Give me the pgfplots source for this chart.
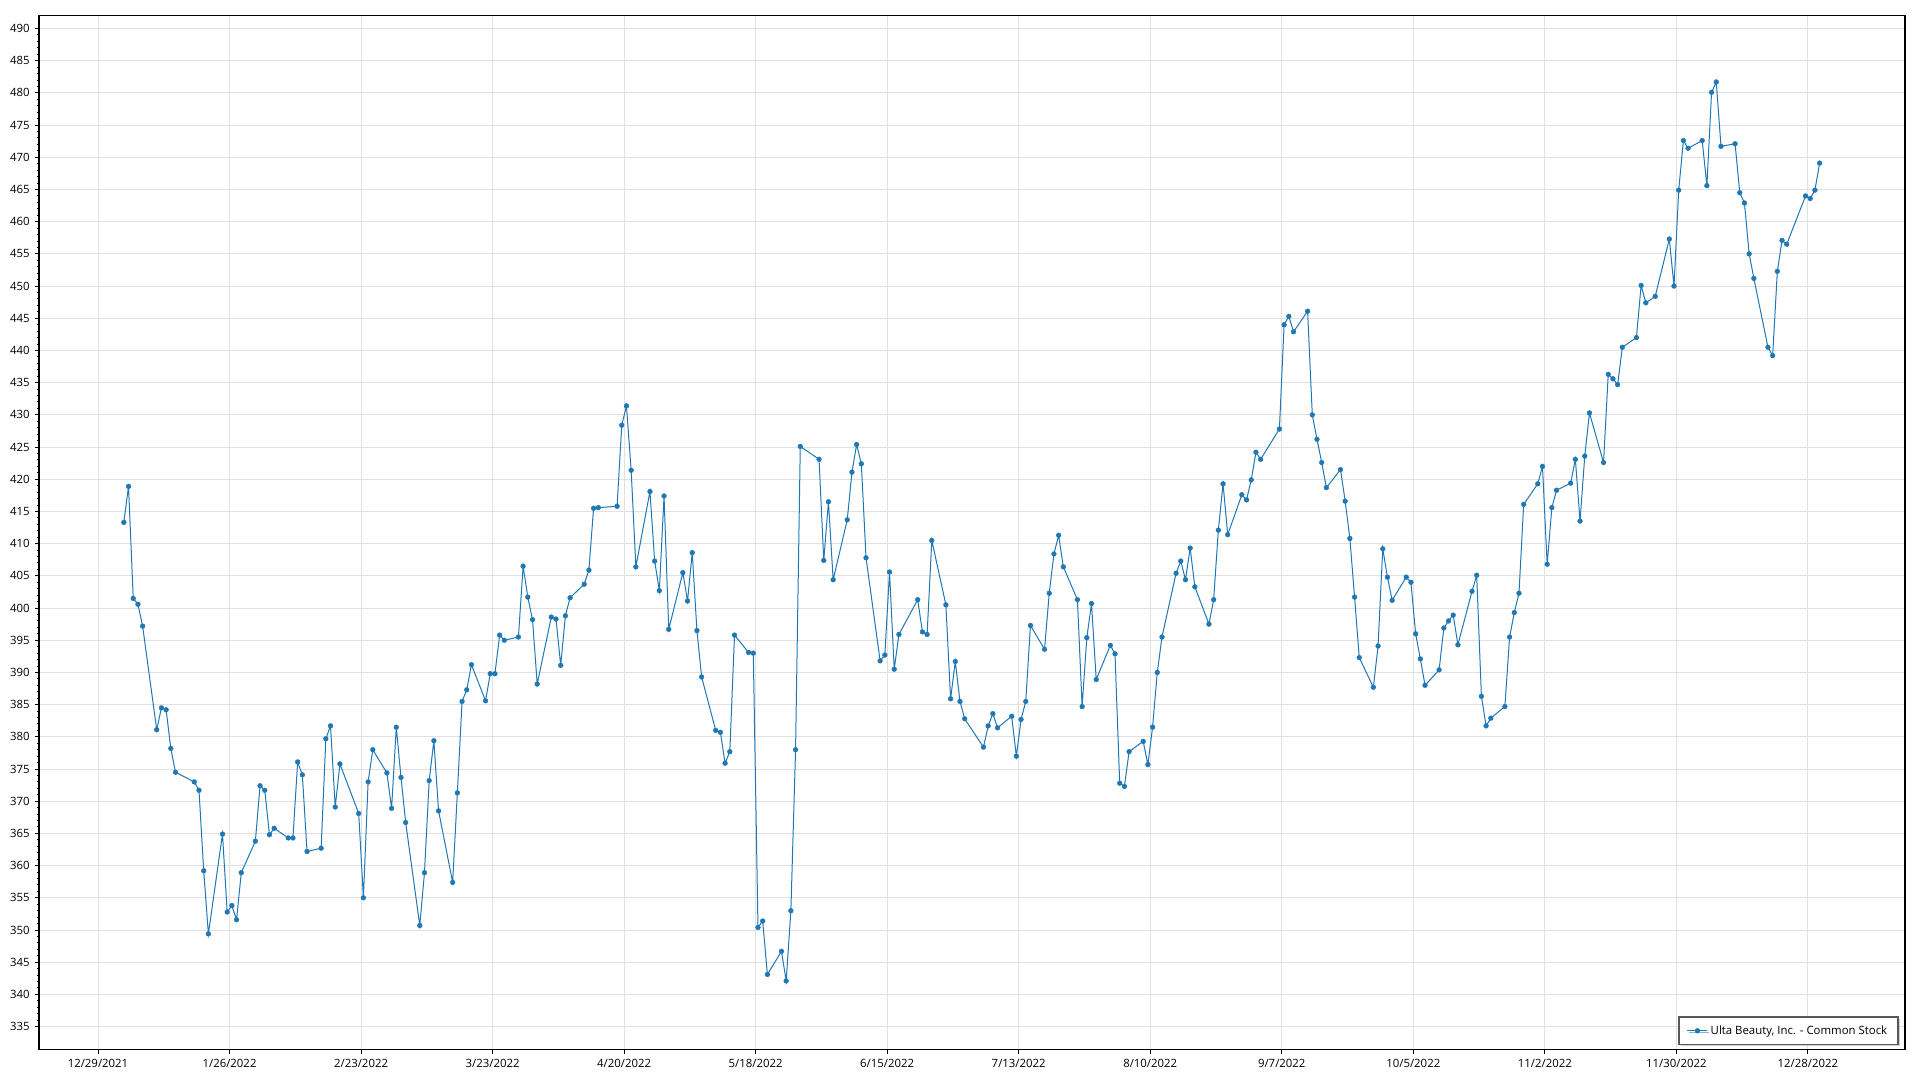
\documentclass[border=0pt]{standalone}
\usepackage{fontspec}
\setmainfont{Open Sans}
\usepackage{pgfplots}
\pgfplotsset{compat=1.18}
\usetikzlibrary{shadows}
\definecolor{ultablue}{HTML}{1F77B4}
\definecolor{gridgray}{HTML}{E1E1E1}
\newcommand{\chartfont}{\fontsize{8.1pt}{9.5pt}\selectfont}

% closing price, x = days since 12/29/2021
\pgfplotstableread{
d v
5 413.3
6 418.9
7 401.5
8 400.6
9 397.2
12 381.1
13 384.5
14 384.2
15 378.2
16 374.5
20 373.0
21 371.7
22 359.2
23 349.4
26 364.9
27 352.8
28 353.8
29 351.6
30 358.9
33 363.8
34 372.4
35 371.7
36 364.8
37 365.8
40 364.3
41 364.3
42 376.1
43 374.1
44 362.2
47 362.7
48 379.7
49 381.7
50 369.1
51 375.8
55 368.1
56 355.0
57 373.0
58 378.0
61 374.4
62 368.9
63 381.5
64 373.7
65 366.7
68 350.7
69 358.9
70 373.2
71 379.4
72 368.5
75 357.4
76 371.3
77 385.5
78 387.3
79 391.2
82 385.6
83 389.8
84 389.8
85 395.8
86 395.0
89 395.5
90 406.5
91 401.7
92 398.2
93 388.2
96 398.6
97 398.3
98 391.1
99 398.8
100 401.6
103 403.7
104 405.9
105 415.5
106 415.6
110 415.8
111 428.4
112 431.4
113 421.4
114 406.4
117 418.1
118 407.3
119 402.7
120 417.4
121 396.7
124 405.5
125 401.1
126 408.6
127 396.5
128 389.3
131 381.0
132 380.7
133 375.9
134 377.7
135 395.8
138 393.1
139 393.0
140 350.4
141 351.4
142 343.1
145 346.7
146 342.1
147 353.0
148 378.0
149 425.1
153 423.1
154 407.4
155 416.5
156 404.4
159 413.7
160 421.1
161 425.4
162 422.4
163 407.8
166 391.8
167 392.7
168 405.6
169 390.5
170 395.9
174 401.3
175 396.3
176 395.9
177 410.5
180 400.5
181 385.9
182 391.7
183 385.5
184 382.8
188 378.4
189 381.7
190 383.6
191 381.4
194 383.2
195 377.0
196 382.7
197 385.5
198 397.3
201 393.6
202 402.3
203 408.4
204 411.3
205 406.4
208 401.3
209 384.7
210 395.4
211 400.7
212 388.9
215 394.2
216 392.9
217 372.8
218 372.3
219 377.7
222 379.3
223 375.7
224 381.5
225 390.0
226 395.5
229 405.4
230 407.3
231 404.4
232 409.3
233 403.3
236 397.5
237 401.3
238 412.1
239 419.3
240 411.4
243 417.6
244 416.8
245 419.9
246 424.2
247 423.1
251 427.8
252 444.0
253 445.3
254 442.9
257 446.1
258 430.0
259 426.2
260 422.6
261 418.7
264 421.5
265 416.6
266 410.8
267 401.7
268 392.3
271 387.7
272 394.1
273 409.2
274 404.8
275 401.2
278 404.8
279 404.0
280 396.0
281 392.1
282 388.0
285 390.4
286 396.9
287 398.0
288 398.9
289 394.3
292 402.6
293 405.1
294 386.3
295 381.7
296 382.9
299 384.7
300 395.5
301 399.3
302 402.3
303 416.1
306 419.3
307 422.0
308 406.8
309 415.6
310 418.3
313 419.4
314 423.1
315 413.5
316 423.6
317 430.3
320 422.6
321 436.3
322 435.6
323 434.7
324 440.5
327 442.0
328 450.1
329 447.4
331 448.4
334 457.3
335 450.0
336 464.9
337 472.6
338 471.4
341 472.6
342 465.6
343 480.1
344 481.7
345 471.7
348 472.1
349 464.5
350 462.9
351 455.0
352 451.2
355 440.5
356 439.2
357 452.3
358 457.1
359 456.5
363 464.0
364 463.6
365 464.9
366 469.1
}\ultadata

\begin{document}
\begin{tikzpicture}
\useasboundingbox (0,0) rectangle (480mm,270mm);
\begin{axis}[
  at={(9.75mm,7.6mm)}, anchor=south west,
  scale only axis,
  width=466.5mm, height=258.6mm,
  xmin=-13.06, xmax=384.17,
  ymin=331.43, ymax=492.07,
  xtick={-0.5,27.5,55.5,83.5,111.5,139.5,167.5,195.5,223.5,251.5,279.5,307.5,335.5,363.5},
  xticklabels={12/29/2021,1/26/2022,2/23/2022,3/23/2022,4/20/2022,5/18/2022,6/15/2022,
    7/13/2022,8/10/2022,9/7/2022,10/5/2022,11/2/2022,11/30/2022,12/28/2022},
  ytick={335,340,...,490},
  minor y tick num=4,
  tick pos=left, tick align=outside,
  major tick length=1.1mm, minor tick length=0.6mm,
  every tick/.style={black, line width=0.25mm},
  grid=major,
  major grid style={gridgray, line width=0.25mm},
  axis line style={black, line width=0.3mm},
  tick label style={font=\chartfont},
  /pgf/number format/assume math mode=true,
  legend style={at={(1,0)}, anchor=south east, xshift=-1.6mm, yshift=1.1mm,
    draw=black!65, line width=0.3mm, fill=white, font=\chartfont,
    drop shadow={shadow xshift=0.45mm, shadow yshift=-0.45mm, fill=black!35},
    inner xsep=2mm, inner ysep=1.4mm},
  legend cell align=left,
  legend image code/.code={
    \draw[mark repeat=2, mark phase=2] plot coordinates {(0mm,0mm) (2.5mm,0mm) (5mm,0mm)};},
]
\addplot[color=ultablue, line width=0.25mm, mark=*, mark size=0.6mm,
  mark options={solid, fill=ultablue, draw=ultablue, line width=0.1mm}]
  table[x=d, y=v] {\ultadata};
\addlegendentry{Ulta Beauty, Inc. - Common Stock}
\end{axis}
\end{tikzpicture}
\end{document}
